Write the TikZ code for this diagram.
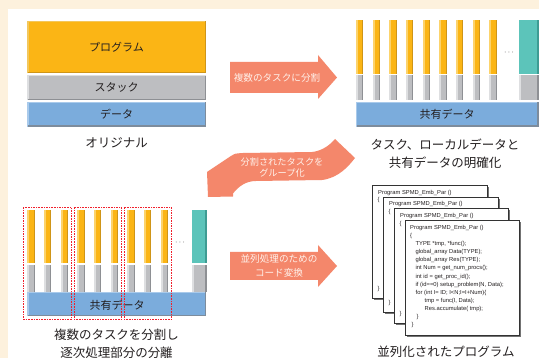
\documentclass[tikz,border=0pt]{standalone}
\usepackage{fontspec}
\newfontfamily\jp{Noto Sans CJK JP}
\newfontfamily\codef{Liberation Sans}
\definecolor{cream}{HTML}{FDF1DD}
\definecolor{orM}{HTML}{FBB515}
\definecolor{orL}{HTML}{FCD36B}
\definecolor{orD}{HTML}{CF9518}
\definecolor{grM}{HTML}{BDBEC1}
\definecolor{grL}{HTML}{DEDFE1}
\definecolor{grD}{HTML}{8E9094}
\definecolor{blM}{HTML}{7BACDC}
\definecolor{blL}{HTML}{A9CAEB}
\definecolor{blD}{HTML}{7D8C9C}
\definecolor{tlM}{HTML}{5CC4BA}
\definecolor{tlD}{HTML}{3E9C93}
\definecolor{arr}{HTML}{F4876B}
\definecolor{arrtxt}{HTML}{FFF1EA}
\definecolor{txt}{HTML}{231F20}
\definecolor{dotred}{HTML}{F0202C}
\newcommand{\bevelbox}[7]{%
  \fill[#5] (#1,#2) rectangle (#3,#4);
  \draw[#6, line width=1.2pt] (#1+0.6,#4) -- (#1+0.6,#2+0.6) -- (#3,#2+0.6);
  \draw[#7, line width=1.2pt] (#1+0.6,#4-0.6) -- (#3-0.6,#4-0.6) -- (#3-0.6,#2+0.6);}
\newcommand{\taskbar}[4]{%
  \fill[orM] (#1,#2) rectangle (#1+7.3,#3);
  \fill[orL] (#1,#2) rectangle (#1+2,#3);
  \fill[orD] (#1+6.3,#2) rectangle (#1+7.3,#3);
  \fill[grM] (#1,#3+1.3) rectangle (#1+7.3,#4);
  \fill[grL] (#1,#3+1.3) rectangle (#1+2,#4);
  \fill[grD] (#1+6.3,#3+1.3) rectangle (#1+7.3,#4);}
\newcommand{\tealbar}[5]{%
  \fill[tlM] (#1,#2) rectangle (#5,#3);
  \fill[tlD] (#5-1.3,#2) rectangle (#5,#3);
  \fill[grM] (#1,#3+1.3) rectangle (#5,#4);
  \fill[grL] (#1,#3+1.3) rectangle (#1+2,#4);
  \fill[grD] (#5-1.3,#3+1.3) rectangle (#5,#4);}
\newcommand{\codepage}[4]{%
  \fill[black!55] (#1+1.6,#2+1.6) rectangle (#3+1.6,#4+1.6);
  \filldraw[fill=white, draw=black!80, line width=0.7pt] (#1,#2) rectangle (#3,#4);}
\begin{document}
\begin{tikzpicture}[x=1pt,y=-1pt,
  lbl/.style={font=\jp\fontsize{11}{12}\selectfont, text=txt, inner sep=0pt},
  captxt/.style={font=\jp\fontsize{12.5}{18}\selectfont, text=txt, inner sep=0pt, align=center},
  arrlbl/.style={font=\jp\fontsize{9.6}{13.3}\selectfont, text=arrtxt, inner sep=0pt, align=center},
  codetxt/.style={font=\codef\fontsize{5.8}{8.1}\selectfont, text=txt, inner sep=0pt, anchor=west},
  grpbox/.style={draw=dotred, dash pattern=on 1.6pt off 1pt, line width=1pt}]
\useasboundingbox (0,0) rectangle (539,358);
\fill[cream] (0,0) rectangle (539,358);
\fill[white] (8,9) rectangle (539,358);

% ---------- original
\bevelbox{27.3}{20.7}{205.7}{73.3}{orM}{orL!80!orD}{orD}
\bevelbox{27.3}{75}{205.7}{100}{grM}{grL}{grD}
\bevelbox{27.3}{101.7}{205.7}{126.7}{blM}{blL}{blD}
\node[lbl] (prog) at (116.5,47) {プログラム};
\node[lbl] (stack) at (116.5,87.5) {スタック};
\node[lbl] (data) at (116.5,114) {データ};
\node[captxt] (orig) at (116.5,143) {オリジナル};

% ---------- arrow 1
\fill[arr] (230,62) -- (318,62) -- (318,55) -- (337,77.5) -- (318,99) -- (318,93) -- (230,93) -- cycle;
\node[arrlbl] (a1) at (277,77.5) {複数のタスクに分割};

% ---------- tasks top right
\foreach \i in {0,...,8} {\taskbar{356+16.67*\i}{20}{74}{100}}
\tealbar{519}{20}{74}{100}{538.5}
\node[font=\codef\fontsize{8}{8}\selectfont, text=txt, inner sep=0pt] (dots1) at (509,53) {$\cdots$};
\bevelbox{356}{101.7}{538.5}{126.7}{blM}{blL}{blD}
\node[lbl] (shared1) at (447,114) {共有データ};
\node[captxt] (cap1) at (445,154) {タスク、ローカルデータと\\共有データの明確化};

% ---------- curved arrow
\fill[arr] (208,197) -- (207,172) -- (231,156) .. controls (235,153.5) .. (243,153)
  -- (312,152) .. controls (322,151) and (330,145) .. (335,139)
  -- (355,158) .. controls (348,167) and (338,178) .. (322,180)
  -- (256,181) .. controls (246,181) and (239,186) .. (233,193.5)
  -- (233,196.5) -- cycle;
\node[arrlbl, font=\jp\fontsize{9.2}{11}\selectfont] (a2) at (282,167.5) {分割されたタスクを\\グループ化};

% ---------- grouped tasks bottom left
\foreach \i in {0,...,8} {\taskbar{27.3+16.67*\i}{210}{263.3}{291.7}}
\tealbar{191.7}{210}{263.3}{291.7}{206.7}
\node[font=\codef\fontsize{8}{8}\selectfont, text=txt, inner sep=0pt] (dots2) at (180,243) {$\cdots$};
\bevelbox{27.3}{291.7}{206}{316}{blM}{blL}{blD}
\node[lbl] (shared2) at (117,305) {共有データ};
\draw[grpbox] (23.3,207.3) rectangle (71.7,319.3);
\draw[grpbox] (74,207.3) rectangle (121.7,319.3);
\draw[grpbox] (124,207.3) rectangle (171.7,319.3);
\node[captxt] (cap2) at (116.5,343.5) {複数のタスクを分割し\\逐次処理部分の分離};

% ---------- arrow 3
\fill[arr] (230,252) -- (318,252) -- (318,245) -- (337,266) -- (318,287) -- (318,280) -- (230,280) -- cycle;
\node[arrlbl] (a3) at (279,266) {並列処理のための\\コード変換};

% ---------- code pages
\codepage{372}{185}{487}{298}
\node[codetxt] (p1a) at (378,193) {Program SPMD\_Emb\_Par ()};
\node[codetxt] (p1b) at (377.5,200.5) {\{};
\node[codetxt] (p1c) at (377.5,289) {\}};
\codepage{383}{197}{498}{312}
\node[codetxt] (p2a) at (389,204.5) {Program SPMD\_Emb\_Par ()};
\node[codetxt] (p2b) at (388.5,212.5) {\{};
\node[codetxt] (p2c) at (388.5,303) {\}};
\codepage{394}{208}{508}{323}
\node[codetxt] (p3a) at (400,216.5) {Program SPMD\_Emb\_Par ()};
\node[codetxt] (p3b) at (399.5,224) {\{};
\node[codetxt] (p3c) at (399.5,314) {\}};
\codepage{405}{220}{519}{335}
\node[codetxt, anchor=north west, align=left] (p4) at (410,225) {%
Program SPMD\_Emb\_Par ()\\
\{\\
\hspace*{5.5pt}TYPE *tmp, *func();\\
\hspace*{5.5pt}global\_array Data(TYPE);\\
\hspace*{5.5pt}global\_array Res(TYPE);\\
\hspace*{5.5pt}int Num = get\_num\_procs();\\
\hspace*{5.5pt}int id = get\_proc\_id();\\
\hspace*{5.5pt}if (id==0) setup\_problem(N, Data);\\
\hspace*{5.5pt}for (int I= ID; I<N;I=I+Num)\{\\
\hspace*{14.5pt}tmp = func(I, Data);\\
\hspace*{14.5pt}Res.accumulate( tmp);\\
\hspace*{6.5pt}\}\\
\hspace*{1.5pt}\}};
\node[captxt] (cap3) at (446,352) {並列化されたプログラム};
\end{tikzpicture}
\end{document}
